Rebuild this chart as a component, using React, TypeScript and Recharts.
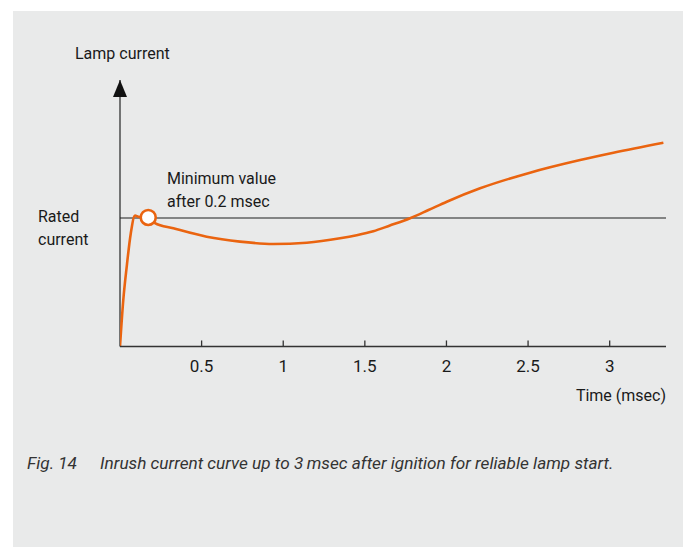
import React from "react";
import { LineChart, Line, XAxis, YAxis, ReferenceLine, ReferenceDot } from "recharts";

// time in msec, lamp current relative to rated current (rated = 1)
const times = [0, 0.02, 0.041, 0.066, 0.092, 0.112, 0.173, 0.214, 0.327, 0.531, 0.735, 0.939, 1.144, 1.348, 1.45, 1.552, 1.65, 1.777, 1.89, 2.002, 2.206, 2.512, 2.819, 3.023, 3.329];
const currents = [0, 0.36, 0.62, 0.88, 1.02, 1.01, 1.004, 0.96, 0.92, 0.854, 0.816, 0.798, 0.808, 0.842, 0.866, 0.897, 0.94, 0.998, 1.062, 1.127, 1.231, 1.353, 1.451, 1.508, 1.586];
const xTicks = [0.5, 1, 1.5, 2, 2.5, 3];
const ratedLevel = 1;
const minPoint = { t: 0.173, i: 1.004 };

const data = times.map((t, k) => ({ t, i: currents[k] }));

const ORANGE = "#ea6410";
const FONT = "Roboto, 'Liberation Sans', sans-serif";
const X_MAX = 3.345;
const Y_MAX = 2.074;
const TICK_LEN = 0.047;

const Arrow = (p: any) => (
  <polygon points={`${p.cx},${p.cy} ${p.cx - 7},${p.cy + 17} ${p.cx + 7},${p.cy + 17}`} fill="#111" />
);

export default function App() {
  return (
    <div style={{ position: "absolute", left: 0, top: 0, width: 683, height: 547, background: "#fff" }}>
      <div style={{ position: "absolute", left: 13, top: 11, width: 670, height: 536, background: "#e9eaea" }} />
      <div style={{ position: "absolute", left: 0, top: 0 }}>
        <LineChart width={683} height={547} data={data} margin={{ top: 80, right: 17, bottom: 170.5, left: 120 }}>
          <XAxis
            type="number"
            dataKey="t"
            domain={[0, X_MAX]}
            ticks={xTicks}
            allowDataOverflow
            height={30}
            axisLine={{ stroke: "#333", strokeWidth: 1.3 }}
            tickLine={false}
            tickSize={6}
            tickMargin={7}
            tick={{ fill: "#1a1a1a", fontSize: 17, fontFamily: FONT }}
          />
          <YAxis hide domain={[0, Y_MAX]} allowDataOverflow />
          <ReferenceLine x={0} stroke="#333" strokeWidth={1.3} ifOverflow="visible" />
          <ReferenceLine y={ratedLevel} stroke="#1e1e1e" strokeWidth={1.2} />
          {xTicks.map((t) => (
            <ReferenceLine key={t} segment={[{ x: t, y: 0 }, { x: t, y: TICK_LEN }]} stroke="#333" strokeWidth={1.3} />
          ))}
          <ReferenceDot x={0} y={Y_MAX} shape={Arrow} ifOverflow="visible" />
          <Line
            type="monotone"
            dataKey="i"
            stroke={ORANGE}
            strokeWidth={2.6}
            dot={false}
            activeDot={false}
            isAnimationActive={false}
          />
          <ReferenceDot x={minPoint.t} y={minPoint.i} r={7.5} fill="#fff" stroke={ORANGE} strokeWidth={2.6} />
        </LineChart>
      </div>
      <svg width={683} height={547} style={{ position: "absolute", left: 0, top: 0, pointerEvents: "none" }}>
        <g fontFamily={FONT} fontSize={16} fill="#1a1a1a">
          <text x={75} y={59}>Lamp current</text>
          <text x={167} y={184}>Minimum value</text>
          <text x={167} y={207}>after 0.2 msec</text>
          <text x={38} y={222}>Rated</text>
          <text x={38} y={245}>current</text>
          <text x={666} y={401} textAnchor="end">Time (msec)</text>
        </g>
        <g fontFamily={FONT} fontSize={17.2} fontStyle="italic" fill="#333">
          <text x={27} y={469}>Fig. 14</text>
          <text x={100} y={469}>Inrush current curve up to 3{"\u2009"}msec after ignition for reliable lamp start.</text>
        </g>
      </svg>
    </div>
  );
}
